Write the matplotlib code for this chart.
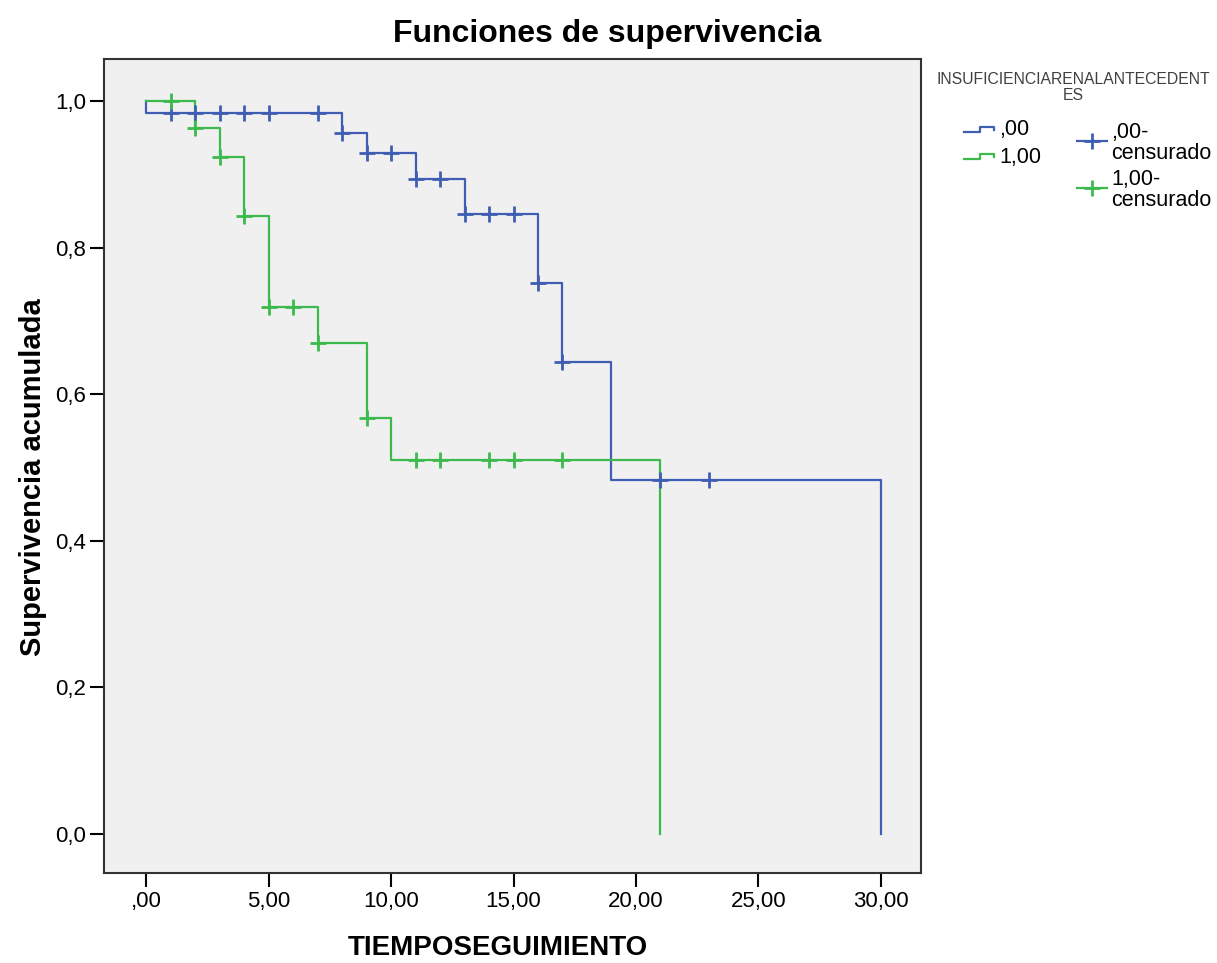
import numpy as np
import matplotlib.pyplot as plt
from matplotlib.lines import Line2D

plt.rcParams['font.family'] = ['Liberation Sans', 'DejaVu Sans']

# Kaplan-Meier steps
blue_times = [0, 0, 8, 9, 11, 13, 16, 17, 19, 30]
blue_surv = [1.0, 0.984, 0.957, 0.929, 0.893, 0.846, 0.752, 0.644, 0.483, 0.0]
blue_cens = [1, 2, 3, 4, 5, 7, 8, 9, 10, 11, 12, 13, 14, 15, 16, 17, 21, 23]

green_times = [0, 2, 3, 4, 5, 7, 9, 10, 21]
green_surv = [1.0, 0.963, 0.924, 0.843, 0.719, 0.670, 0.567, 0.510, 0.0]
green_cens = [1, 2, 3, 4, 5, 6, 7, 9, 11, 12, 14, 15, 17]

x_ticks = [0, 5, 10, 15, 20, 25, 30]
x_labels = [',00', '5,00', '10,00', '15,00', '20,00', '25,00', '30,00']
y_ticks = [0.0, 0.2, 0.4, 0.6, 0.8, 1.0]
y_labels = ['0,0', '0,2', '0,4', '0,6', '0,8', '1,0']

BLUE = '#3F5DB3'
GREEN = '#3DBA4E'
W, H = 1217, 963


def surv_at(t, times, surv):
    i = np.searchsorted(times, t, side='right') - 1
    return surv[i]


def fx(px):
    return px / W


def fy(py):
    return 1 - py / H


fig = plt.figure(figsize=(12.17, 9.63), dpi=100)
ax = fig.add_axes([fx(104), fy(873), (921 - 104) / W, (873 - 59) / H])
ax.set_facecolor('#F0F0F0')

ax.step(blue_times, blue_surv, where='post', color=BLUE, lw=1.6)
ax.step(green_times, green_surv, where='post', color=GREEN, lw=1.6)

bc = [surv_at(t, blue_times, blue_surv) for t in blue_cens]
gc = [surv_at(t, green_times, green_surv) for t in green_cens]
ax.plot(blue_cens, bc, '+', color=BLUE, ms=11, mew=2)
ax.plot(green_cens, gc, '+', color=GREEN, ms=11, mew=2)

ax.set_xlim(-1.728, 31.646)
ax.set_ylim(-0.0532, 1.0573)
ax.set_xticks(x_ticks)
ax.set_xticklabels(x_labels)
ax.set_yticks(y_ticks)
ax.set_yticklabels(y_labels)
ax.tick_params(direction='out', length=10, width=1.5, labelsize=16, pad=3)
for s in ax.spines.values():
    s.set_color('#333333')
    s.set_linewidth(1.5)

fig.text(fx(607), fy(34), 'Funciones de supervivencia', ha='center', va='center',
         fontsize=23, fontweight='bold')
fig.text(fx(498), fy(948), 'TIEMPOSEGUIMIENTO', ha='center', va='center',
         fontsize=20, fontweight='bold')
fig.text(fx(33), fy(477), 'Supervivencia acumulada', ha='center', va='center',
         rotation=90, fontsize=21, fontweight='bold')

# legend, drawn by hand
fig.text(fx(1073), fy(80), 'INSUFICIENCIARENALANTECEDENT', ha='center', va='center',
         fontsize=11.3, color='#404040')
fig.text(fx(1073), fy(95), 'ES', ha='center', va='center', fontsize=11.3, color='#404040')

for col, yb, lab in [(BLUE, 132, ',00'), (GREEN, 159, '1,00')]:
    xs = [964, 980, 980, 994, 994]
    ys = [yb, yb, yb - 5, yb - 5, yb - 2]
    fig.add_artist(Line2D([fx(v) for v in xs], [fy(v) for v in ys], color=col, lw=1.6))
    fig.text(fx(999), fy(yb - 2), lab, ha='left', va='center', fontsize=15.5)

for col, yc, lab in [(BLUE, 141, ',00-\ncensurado'), (GREEN, 188, '1,00-\ncensurado')]:
    fig.add_artist(Line2D([fx(1077), fx(1107)], [fy(yc), fy(yc)], color=col, lw=1.6))
    fig.add_artist(Line2D([fx(1092)], [fy(yc)], color=col, marker='+', ms=11, mew=2, lw=0))
    fig.text(fx(1111), fy(yc + 2), lab, ha='left', va='center', fontsize=15.5,
             linespacing=0.95)

fig.savefig('out.png', dpi=100)
